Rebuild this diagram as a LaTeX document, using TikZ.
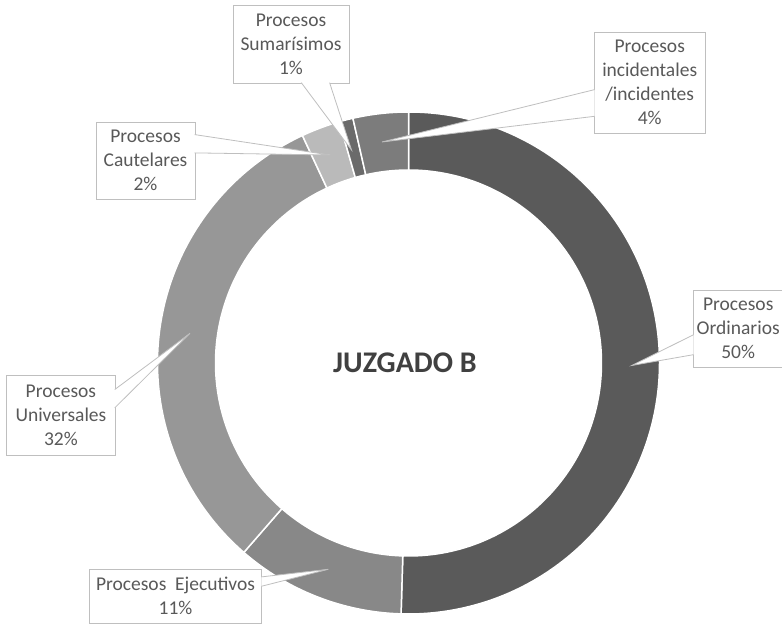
\documentclass[tikz,border=0pt]{standalone}
\usepackage{fontspec}
\setmainfont{Carlito}
\usetikzlibrary{calc}
\definecolor{ordgray}{HTML}{5A5A5A}
\definecolor{ejegray}{HTML}{888888}
\definecolor{unigray}{HTML}{979797}
\definecolor{caugray}{HTML}{BABABA}
\definecolor{sumgray}{HTML}{6A6A6A}
\definecolor{incgray}{HTML}{7C7C7C}
\definecolor{boxgray}{HTML}{BFBFBF}
\definecolor{txtgray}{HTML}{595959}
\definecolor{titlegray}{HTML}{404040}

\begin{document}
\begin{tikzpicture}[x=1pt,y=1pt,
  seg/.style={draw=white,line width=1.5pt},
  lbl/.style={draw=boxgray,fill=white,line width=0.8pt,text=txtgray,align=center,
    inner sep=0pt,font=\fontsize{19.5}{24}\selectfont},
  tail/.style={draw=boxgray,fill=white,line width=0.8pt}]
\useasboundingbox (0,0) rectangle (782,624);

% ring
\begin{scope}[shift={(408.5,261)}]
\foreach \a/\b/\c in {90/-91.7/ordgray,-91.7/-131/ejegray,-131/-245/unigray,
    -245/-254/caugray,-254/-257.2/sumgray,-257.2/-270/incgray}
  \filldraw[seg,fill=\c] (\a:251) arc[start angle=\a,end angle=\b,radius=251]
    -- (\b:193) arc[start angle=\b,end angle=\a,radius=193] -- cycle;
\end{scope}
\node[font=\bfseries\fontsize{30}{36}\selectfont,text=titlegray] (title) at (405,261) {JUZGADO B};

% label boxes
\node[lbl,minimum width=116pt,minimum height=78pt] (sum) at (291,580) {Procesos\\Sumarísimos\\1\%};
\node[lbl,minimum width=110.7pt,minimum height=101pt] (inc) at (649.7,541.2) {Procesos\\incidentales\\/incidentes\\4\%};
\node[lbl,minimum width=99pt,minimum height=77pt] (cau) at (145.5,463.2) {Procesos\\Cautelares\\2\%};
\node[lbl,minimum width=89.7pt,minimum height=77.3pt] (ord) at (738.2,295.3) {Procesos\\Ordinarios\\50\%};
\node[lbl,minimum width=108.3pt,minimum height=79.3pt] (uni) at (60.9,208.7) {Procesos\\Universales\\32\%};
\node[lbl,minimum width=172.4pt,minimum height=54pt] (eje) at (175.5,27.7) {Procesos\ \ Ejecutivos\\11\%};

% pointer tips
\coordinate (sumTip) at (351.5,474);
\coordinate (incTip) at (382,482);
\coordinate (cauTip) at (330,469);
\coordinate (ordTip) at (631.7,258.5);
\coordinate (uniTip) at (190,290.7);
\coordinate (ejeTip) at (328.3,54.7);

% tails
\filldraw[tail] ($(sum.south west)+(68.7,0.7)$) -- (sumTip) -- ($(sum.south west)+(97,0.7)$);
\filldraw[tail] ($(inc.north west)+(0.7,-57.7)$) -- (incTip) -- ($(inc.north west)+(0.7,-84.4)$);
\filldraw[tail] ($(cau.north east)+(-0.7,-12.7)$) -- (cauTip) -- ($(cau.north east)+(-0.7,-31)$);
\filldraw[tail] ($(ord.north west)+(0.7,-45)$) -- (ordTip) -- ($(ord.north west)+(0.7,-65)$);
\filldraw[tail] ($(uni.north east)+(-0.7,-14.3)$) -- (uniTip) -- ($(uni.north east)+(-0.7,-32.6)$);
\filldraw[tail] ($(eje.north east)+(-0.7,-8)$) -- (ejeTip) -- ($(eje.north east)+(-0.7,-17.4)$);
\end{tikzpicture}
\end{document}
